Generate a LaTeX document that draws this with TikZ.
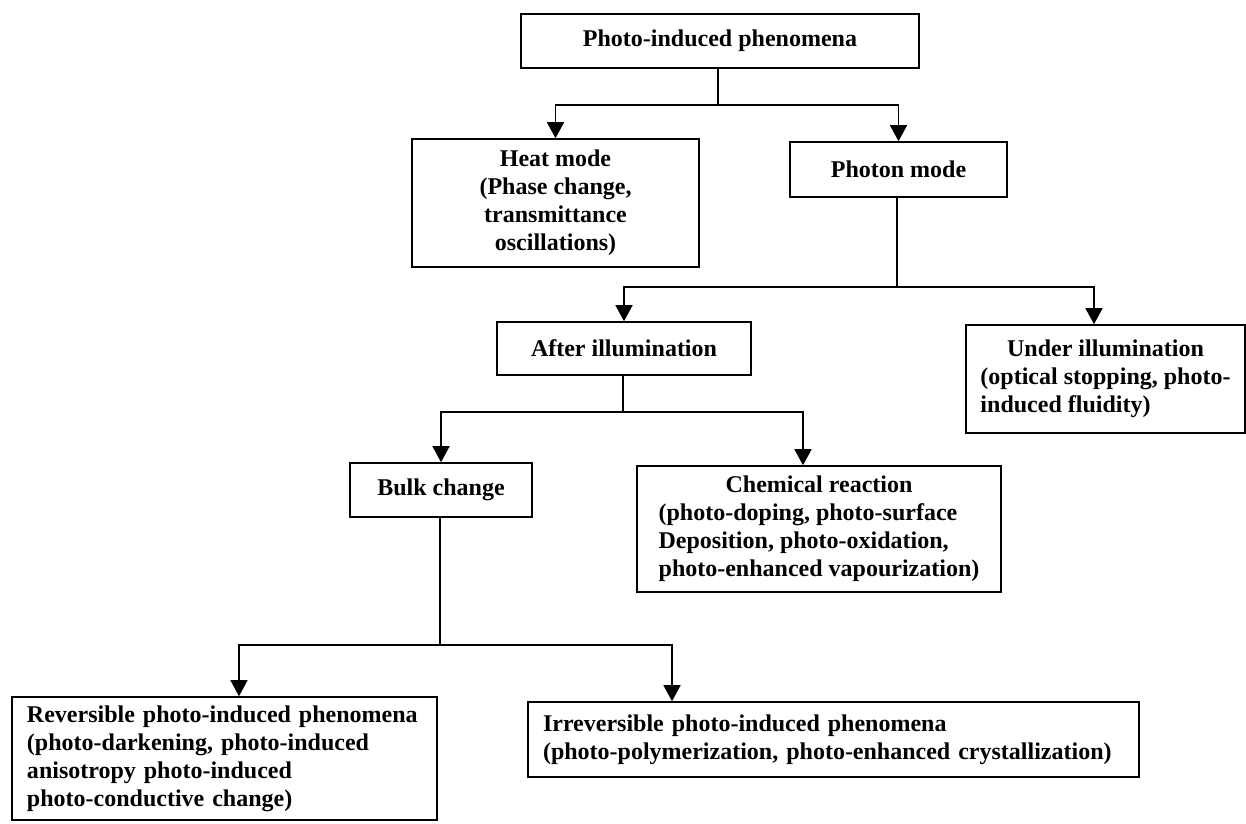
\documentclass[tikz,border=0pt]{standalone}
\usepackage{fontspec}
\setmainfont{Liberation Serif}
\usetikzlibrary{arrows.meta}
\begin{document}
\begin{tikzpicture}[x=1pt,y=-1pt,
  box/.style={draw, line width=1.6pt, inner sep=0pt, font=\fontsize{24}{28}\selectfont\bfseries},
  link/.style={line width=1.6pt},
  arr/.style={line width=1.6pt, -{Triangle[width=17pt,length=16pt]}}]
\useasboundingbox (0,0) rectangle (1246,823);
\fill[white] (0,0) rectangle (1246,823);

\node[box, minimum width=398, minimum height=54, align=center] (top) at (720,41) {Photo-induced phenomena};
\node[box, minimum width=287, minimum height=128, align=center] (heat) at (555.5,203) {Heat mode\\(Phase change,\\transmittance\\oscillations)};
\node[box, minimum width=217, minimum height=55, align=center] (photon) at (898.5,169.5) {Photon mode};
\node[box, minimum width=254, minimum height=53, align=center] (after) at (624,348.5) {After illumination};
\node[box, minimum width=279, minimum height=108] (under) at (1105.5,379)
  {\begin{tabular}{@{}l@{}}\multicolumn{1}{@{}c@{}}{Under illumination}\\(optical stopping, photo-\\induced fluidity)\end{tabular}};
\node[box, minimum width=182, minimum height=54, align=center] (bulk) at (441,490) {Bulk change};
\node[box, minimum width=364, minimum height=126] (chem) at (819,529)
  {\begin{tabular}{@{}l@{}}\multicolumn{1}{@{}c@{}}{Chemical reaction}\\(photo-doping, photo-surface\\Deposition, photo-oxidation,\\photo-enhanced vapourization)\end{tabular}};
\node[box, minimum width=425, minimum height=123, text width=395, align=left] (rev) at (224.5,758.5)
  {Reversible photo-induced phenomena\\(photo-darkening, photo-induced\\anisotropy photo-induced\\photo-conductive change)};
\node[box, minimum width=611, minimum height=75, text width=581, align=left] (irr) at (833.5,739.5)
  {Irreversible photo-induced phenomena\\(photo-polymerization, photo-enhanced crystallization)};

\draw[link] ([xshift=-2]top.south) -- ++(0,36) coordinate (j1);
\draw[arr] (j1) -| (heat.north);
\draw[arr] (j1) -| (photon.north);

\draw[link] ([xshift=-1.5]photon.south) -- ++(0,89) coordinate (j2);
\draw[arr] (j2) -| (after.north);
\draw[arr] (j2) -| ([xshift=-11.5]under.north);

\draw[link] ([xshift=-1]after.south) -- ++(0,36) coordinate (j3);
\draw[arr] (j3) -| (bulk.north);
\draw[arr] (j3) -| ([xshift=-16]chem.north);

\draw[link] ([xshift=-1]bulk.south) -- ++(0,127) coordinate (j4);
\draw[arr] (j4) -| ([xshift=14.5]rev.north);
\draw[arr] (j4) -| ([xshift=-161.5]irr.north);
\end{tikzpicture}
\end{document}
